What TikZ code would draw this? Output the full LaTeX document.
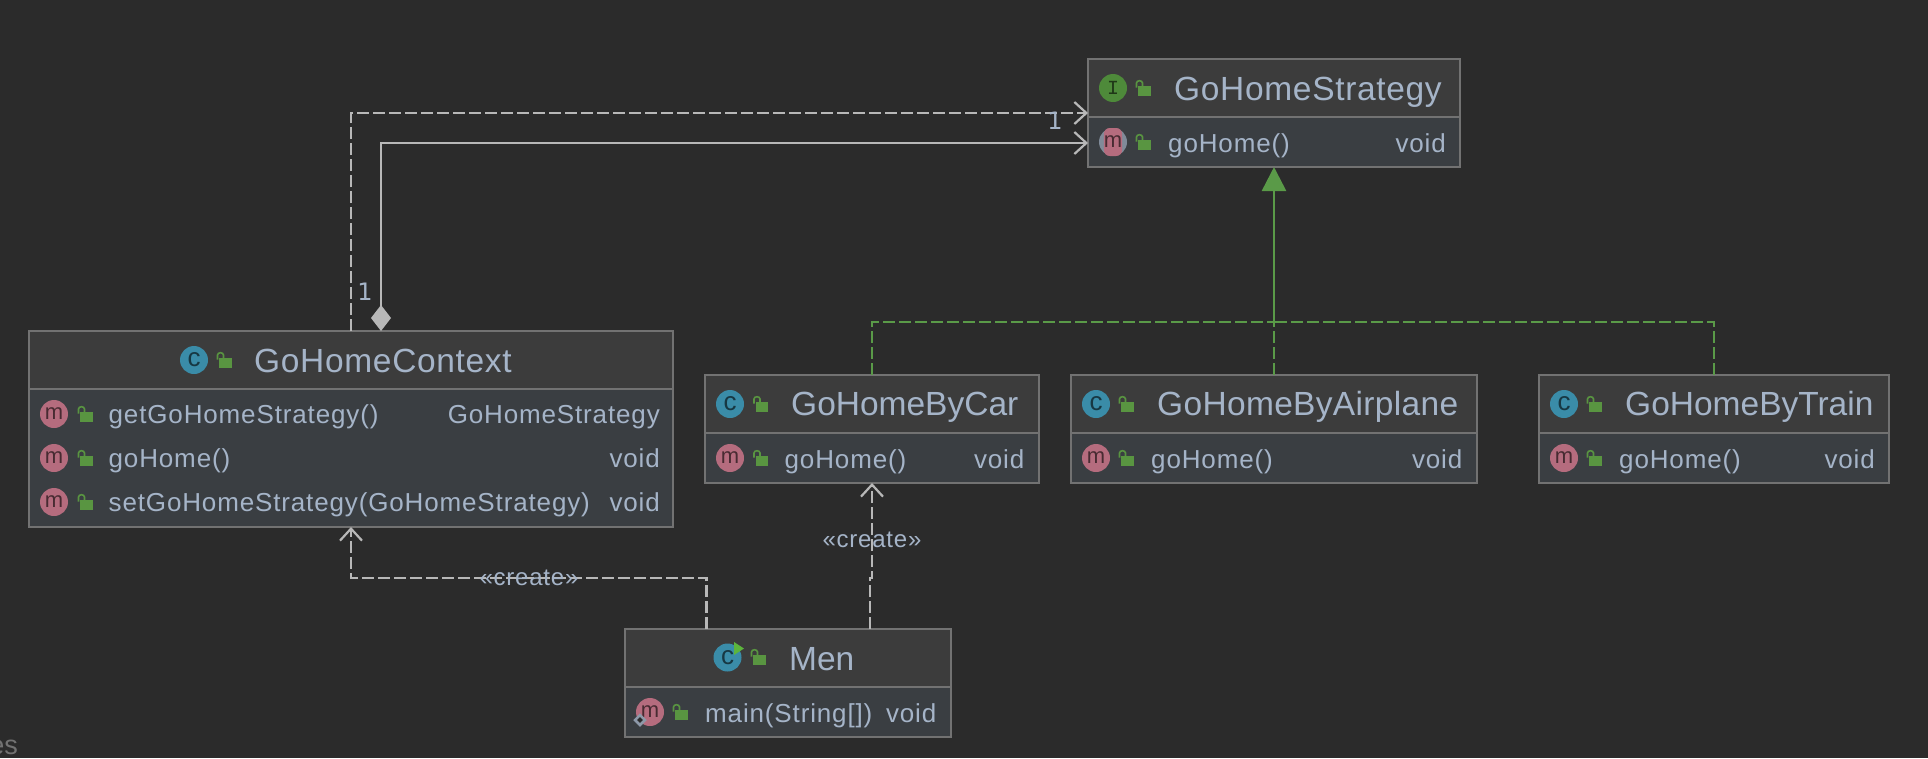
\documentclass[tikz,border=0pt]{standalone}
\usepackage{fontspec}
\setmainfont{Liberation Sans}
\newfontfamily\onefont{DejaVu Sans}
\newfontfamily\titlefont[LetterSpace=1]{Liberation Sans}
\newfontfamily\widetitlefont[LetterSpace=2]{Liberation Sans}
\newfontfamily\memberfont[LetterSpace=3.3]{Liberation Sans}
\newfontfamily\ifacefont{Liberation Mono}
\usetikzlibrary{arrows.meta,positioning,shapes.geometric}

\definecolor{canvas}{HTML}{2B2B2B}
\definecolor{headfill}{HTML}{3C3C3C}
\definecolor{bodyfill}{HTML}{3A3E42}
\definecolor{edge}{HTML}{727272}
\definecolor{ink}{HTML}{A5B4C8}
\definecolor{wire}{HTML}{B8B8B8}
\definecolor{implgreen}{HTML}{5A9A48}
\definecolor{lockgreen}{HTML}{599541}
\definecolor{runarrow}{HTML}{5DB53C}
\definecolor{classblue}{HTML}{3A8CA8}
\definecolor{methodpink}{HTML}{B56C7E}
\definecolor{ifacegreen}{HTML}{4E8A3A}

\begin{document}
\begin{tikzpicture}[x=1pt,y=-1pt]
    \tikzset{headbox/.style= {draw=edge, fill=headfill, rectangle
    , line width=2.3pt
    , inner sep=0pt, outer sep=0pt
    , minimum height=58pt
    , anchor=north west
      }
    , bodybox/.style= {draw=edge, fill=bodyfill, rectangle
    , line width=2.3pt
    , inner sep=0pt, outer sep=0pt
    , minimum height=50pt
    , anchor=north
      }
    , title/.style= {text=ink, inner sep=0pt, anchor=base west
    , font=\titlefont\fontsize{33.5}{36}\selectfont
      }
    , widetitle/.style= {title, font=\widetitlefont\fontsize{33.5}{36}\selectfont}
    , tighttitle/.style= {title, font=\rmfamily\fontsize{33.5}{36}\selectfont}
    , member/.style= {text=ink, inner sep=0pt, anchor=base west
    , font=\memberfont\fontsize{26}{30}\selectfont
      }
    , rettype/.style= {member, anchor=base east}
    , iconbase/.style= {circle, inner sep=0pt, minimum size=28pt
    , font=\fontsize{22}{24}\selectfont
      }
    , classicon/.style= {iconbase, fill=classblue, text=classblue!40!black
    , font=\fontsize{26}{26}\selectfont
      }
    , methodicon/.style= {iconbase, fill=methodpink, text=methodpink!40!black}
    , note/.style= {text=ink, inner sep=0pt, font=\memberfont\fontsize{24}{26}\selectfont}
    , onelabel/.style= {note, font=\onefont\fontsize{24}{26}\selectfont}
    , dep/.style= {draw=wire, line width=2.4pt, dash pattern=on 12pt off 4pt
    , -{Straight Barb[length=12pt,width=22pt,line width=2.2pt]}
      }
    , impl/.style= {draw=implgreen, line width=2.4pt, dash pattern=on 12pt off 4pt}
    , lock/.pic= {
        \fill[lockgreen] (-4.7,-1.7) rectangle (7.7,7.7);
        \draw[lockgreen, line width=1.6pt] (-6.5,-0.5) -- (-6.5,-5)
          .. controls (-6.5,-8) and (-0.5,-8) .. (-0.5,-5) -- (-0.5,-2);
      }
    }

\path[fill=canvas, use as bounding box] (0,0) rectangle (1928,758);

% boxes
\node [headbox, minimum width=372pt] (strategyhead) at (1088,59) {};
\node [bodybox, minimum width=372pt, below=0pt of strategyhead] (strategybody) {};
\node [headbox, minimum width=644pt] (contexthead) at (29,331) {};
\node [bodybox, minimum width=644pt, minimum height=138pt, below=0pt of contexthead] (contextbody) {};
\node [headbox, minimum width=334pt] (carhead) at (705,375) {};
\node [bodybox, minimum width=334pt, below=0pt of carhead] (carbody) {};
\node [headbox, minimum width=406pt] (airplanehead) at (1071,375) {};
\node [bodybox, minimum width=406pt, below=0pt of airplanehead] (airplanebody) {};
\node [headbox, minimum width=350pt] (trainhead) at (1539,375) {};
\node [bodybox, minimum width=350pt, below=0pt of trainhead] (trainbody) {};
\node [headbox, minimum width=326pt] (menhead) at (625,629) {};
\node [bodybox, minimum width=326pt, below=0pt of menhead] (menbody) {};

% free ends
\coordinate (strategydep) at (1088,113);
\coordinate (strategyown) at (1088,143);
\coordinate (contextown) at (381,331);
\coordinate (junction) at (1274,322);
\coordinate (mencontext) at (706.5,629);
\coordinate (mencar) at (870,629);

% connectors
\draw[dep] (contexthead.north) |- (strategydep);
\draw[draw=wire, line width=2.2pt
  , {Diamond[length=26pt,width=20pt,fill=wire]}-{Straight Barb[length=12pt,width=22pt]}]
  (contextown) |- (strategyown);
\draw[impl] (carhead.north) |- (junction);
\draw[impl] (trainhead.north) |- (junction);
\draw[impl] (airplanehead.north) -- (junction);
\draw[draw=implgreen, line width=2.6pt, -{Triangle[length=24pt,width=24pt]}] (junction) -- (strategybody.south);
\draw[dep] (mencontext) -- ++(0,-51) -| (contextbody.south);
\draw[dep] (mencar) -- ++(0,-51) -- ++(2,0) -- (carbody.south);
\node [note] (createleft) at (529,578) {«create»};
\node [note] (createright) at (872,540) {«create»};
\node [onelabel] (ownone) at (365,292) {1};
\node [onelabel] (depone) at (1055,121) {1};

% strategy
\node [iconbase, fill=ifacegreen, text=ifacegreen!40!black, font=\ifacefont\fontsize{20}{22}\selectfont] (strategyicon) at (1113,88) {I};
\pic at (1143,88) {lock};
\node [widetitle] (strategytitle) at (1174,100) {GoHomeStrategy};
\node [iconbase, fill=ink!70!canvas] (strategyring) at (1113,142) {};
\node [methodicon, minimum size=0pt, rectangle, rounded corners=6pt, minimum width=17pt, minimum height=28pt] (strategym) at (1113,142) {m};
\pic at (1143,142) {lock};
\node [member] (strategyname) at (1168,152) {goHome()};
\node [rettype] (strategyvoid) at (1446,152) {void};

% context
\node [classicon] (contexticon) at (194,360) {c};
\pic at (224,360) {lock};
\node [widetitle] (contexttitle) at (254,372) {GoHomeContext};
\foreach \rowy/\rowname/\rowtype in {414/getGoHomeStrategy()/GoHomeStrategy, 458/goHome()/void, 502/setGoHomeStrategy(GoHomeStrategy)/void} {
  \node [methodicon] at (54,\rowy) {m};
  \pic at (85,\rowy) {lock};
  \node [member] at (108.5,\rowy+9) {\rowname};
  \node [rettype] at (660,\rowy+9) {\rowtype};
}

% car
\node [classicon] (caricon) at (730,404) {c};
\pic at (760.5,404) {lock};
\node [tighttitle] (cartitle) at (791,415) {GoHomeByCar};
\node [methodicon] (carm) at (730,458) {m};
\pic at (760.5,458) {lock};
\node [member] (carname) at (784.5,468) {goHome()};
\node [rettype] (carvoid) at (1024.5,468) {void};

% airplane
\node [classicon] (airplaneicon) at (1096,404) {c};
\pic at (1126,404) {lock};
\node [title] (airplanetitle) at (1157,415) {GoHomeByAirplane};
\node [methodicon] (airplanem) at (1096,458) {m};
\pic at (1126,458) {lock};
\node [member] (airplanename) at (1151,468) {goHome()};
\node [rettype] (airplanevoid) at (1462.5,468) {void};

% train
\node [classicon] (trainicon) at (1564,404) {c};
\pic at (1594,404) {lock};
\node [tighttitle] (traintitle) at (1625,415) {GoHomeByTrain};
\node [methodicon] (trainm) at (1564,458) {m};
\pic at (1594,458) {lock};
\node [member] (trainname) at (1619,468) {goHome()};
\node [rettype] (trainvoid) at (1875,468) {void};

% men
\node [classicon] (menicon) at (727.5,657.5) {c};
\fill[runarrow] (734,642) -- (744,648.5) -- (734,655) -- cycle;
\pic at (758,657) {lock};
\node [tighttitle] (mentitle) at (789,670) {Men};
\node [methodicon] (menm) at (650,712) {m};
\node [diamond, fill=canvas, draw=ink!80!canvas, line width=2.5pt, inner sep=0pt, minimum size=11pt] (menmark) at (640,720) {};
\pic at (680,712) {lock};
\node [member] (menname) at (705,722) {main(String[])};
\node [rettype] (menvoid) at (936.5,722) {void};

\node [text=edge, inner sep=0pt, anchor=base east, font=\fontsize{27}{30}\selectfont] (cutoff) at (18,754) {es};
\end{tikzpicture}
\end{document}
